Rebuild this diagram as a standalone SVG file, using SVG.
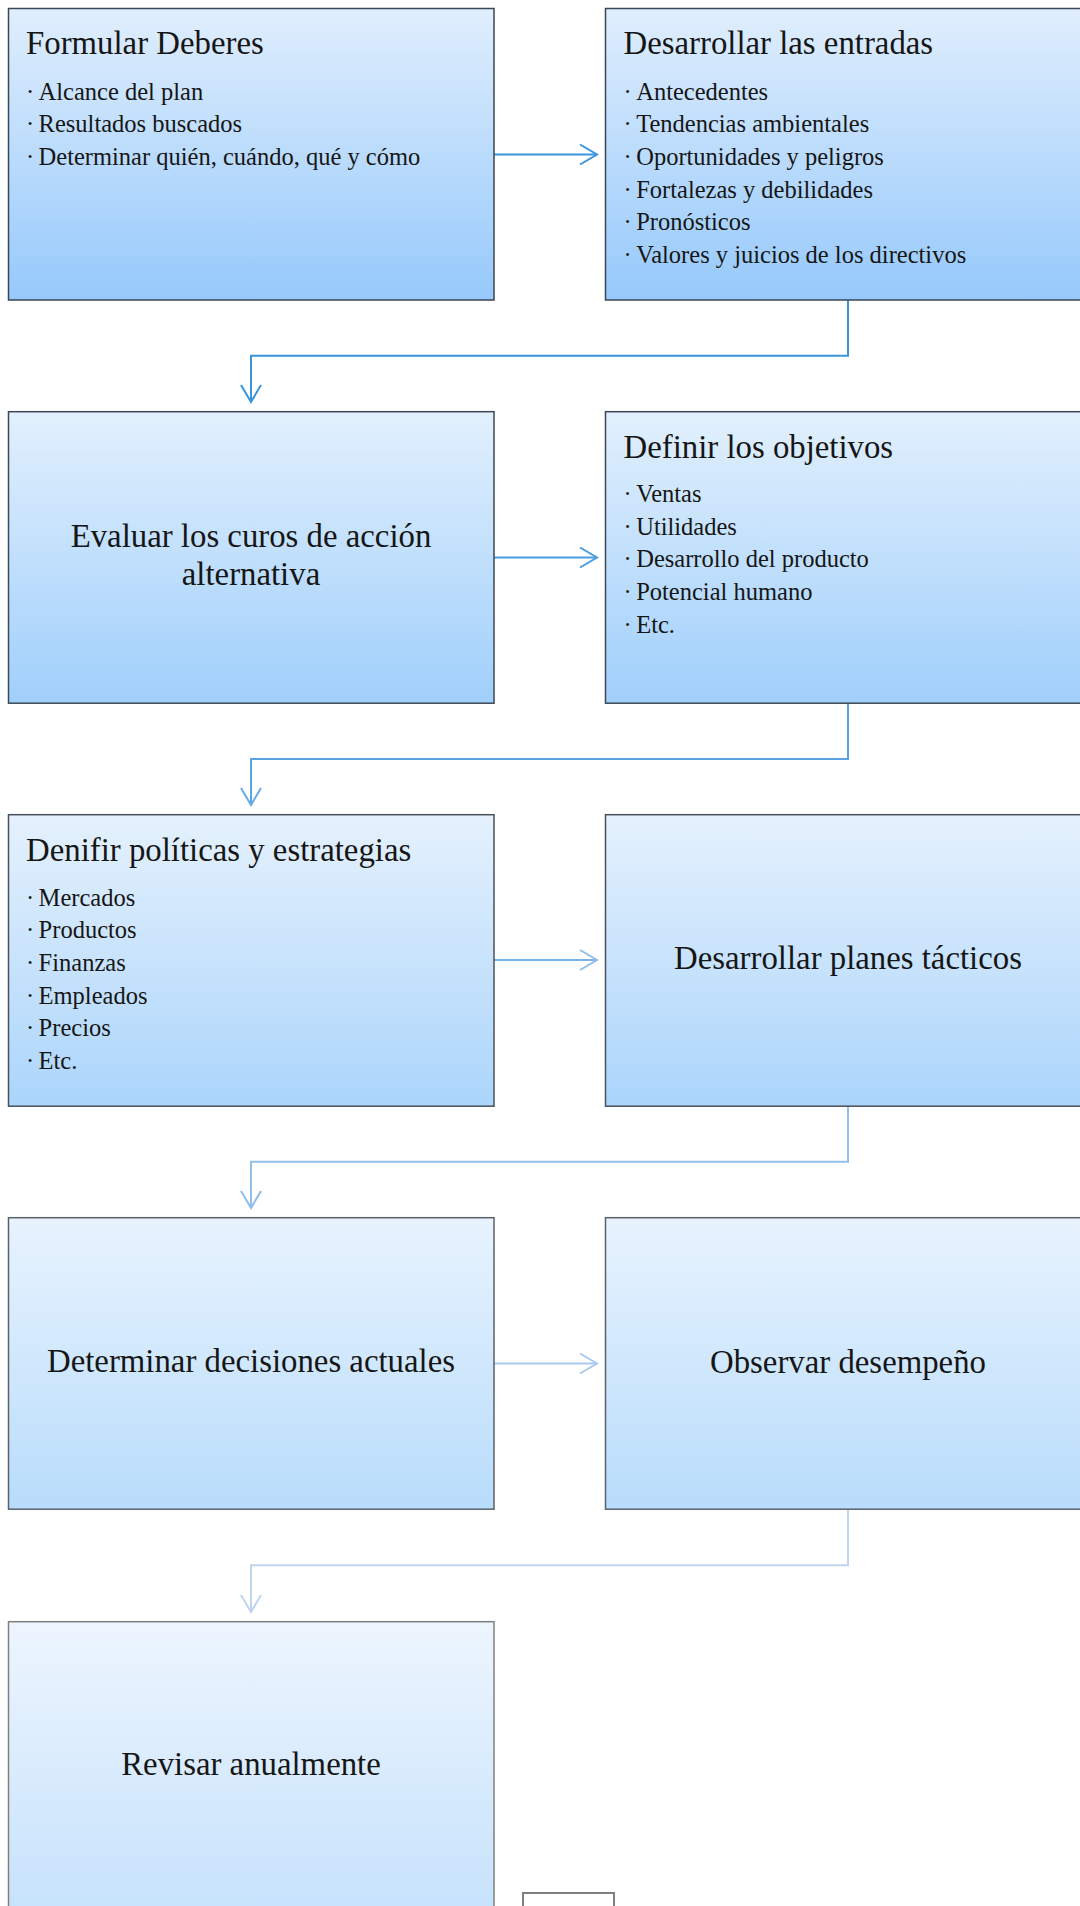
<svg xmlns="http://www.w3.org/2000/svg" width="1080" height="1906" viewBox="0 0 1080 1906">
<style>
text{font-family:"Liberation Serif","Times New Roman",serif;fill:#161616}
.t{font-size:32.8px}
.b{font-size:24.5px}
.c{text-anchor:middle}
.box{stroke-width:1.5}
.ln{fill:none;stroke-width:2}
</style>
<defs>
<linearGradient id="g1" x1="0" y1="0" x2="0" y2="1"><stop offset="0" stop-color="#e0eefd"/><stop offset="1" stop-color="#96c9fb"/></linearGradient>
<linearGradient id="g2" x1="0" y1="0" x2="0" y2="1"><stop offset="0" stop-color="#e2f0fd"/><stop offset="1" stop-color="#a0cffb"/></linearGradient>
<linearGradient id="g3" x1="0" y1="0" x2="0" y2="1"><stop offset="0" stop-color="#e5f1fd"/><stop offset="1" stop-color="#abd5fb"/></linearGradient>
<linearGradient id="g4" x1="0" y1="0" x2="0" y2="1"><stop offset="0" stop-color="#e8f3fe"/><stop offset="1" stop-color="#b8dcfb"/></linearGradient>
<linearGradient id="g5" x1="0" y1="0" x2="0" y2="1"><stop offset="0" stop-color="#edf5fe"/><stop offset="1" stop-color="#c6e2fc"/></linearGradient>
<marker id="m1" markerUnits="userSpaceOnUse" markerWidth="24" markerHeight="26" refX="19" refY="12" orient="auto"><path d="M2,2 L19,12 L2,22" fill="none" stroke="#3a95dc" stroke-width="2"/></marker>
<marker id="m2" markerUnits="userSpaceOnUse" markerWidth="24" markerHeight="26" refX="19" refY="12" orient="auto"><path d="M2,2 L19,12 L2,22" fill="none" stroke="#4a9cdf" stroke-width="2"/></marker>
<marker id="m3" markerUnits="userSpaceOnUse" markerWidth="24" markerHeight="26" refX="19" refY="12" orient="auto"><path d="M2,2 L19,12 L2,22" fill="none" stroke="#6aaae5" stroke-width="2"/></marker>
<marker id="m4" markerUnits="userSpaceOnUse" markerWidth="24" markerHeight="26" refX="19" refY="12" orient="auto"><path d="M2,2 L19,12 L2,22" fill="none" stroke="#8fbdea" stroke-width="2"/></marker>
<marker id="m5" markerUnits="userSpaceOnUse" markerWidth="24" markerHeight="26" refX="19" refY="12" orient="auto"><path d="M2,2 L19,12 L2,22" fill="none" stroke="#aac9ee" stroke-width="2"/></marker>
<marker id="m6" markerUnits="userSpaceOnUse" markerWidth="24" markerHeight="26" refX="19" refY="12" orient="auto"><path d="M2,2 L19,12 L2,22" fill="none" stroke="#c0d5ef" stroke-width="2"/></marker>
</defs>
<rect width="1080" height="1906" fill="#ffffff"/>
<g id="connectors">
<path class="ln" stroke="#3a95dc" d="M494,154.5 H597" marker-end="url(#m1)"/>
<path class="ln" stroke="#3a95dc" d="M848,300 V355.8 H251 V402" marker-end="url(#m1)"/>
<path class="ln" stroke="#4a9cdf" d="M494,557.5 H597" marker-end="url(#m2)"/>
<path class="ln" stroke="#5aa3e2" d="M848,703 V759 H251 V805" marker-end="url(#m3)"/>
<path class="ln" stroke="#78b3e8" d="M494,960 H597" marker-end="url(#m4)"/>
<path class="ln" stroke="#93bfeb" d="M848,1106 V1161.8 H251 V1208" marker-end="url(#m4)"/>
<path class="ln" stroke="#aac9ee" d="M494,1363.5 H597" marker-end="url(#m5)"/>
<path class="ln" stroke="#c0d5ef" d="M848,1509 V1565.3 H251 V1612" marker-end="url(#m6)"/>
</g>
<g id="n1">
<rect class="box" x="8.5" y="8.5" width="485.5" height="291.5" fill="url(#g1)" stroke="#3b4653"/>
<text class="t" x="26" y="54">Formular Deberes</text>
<text class="b" x="26" y="99.5">·<tspan x="38.6">Alcance del plan</tspan></text>
<text class="b" x="26" y="132.2">·<tspan x="38.6">Resultados buscados</tspan></text>
<text class="b" x="26" y="164.9">·<tspan x="38.6">Determinar quién, cuándo, qué y cómo</tspan></text>
</g>
<g id="n2">
<rect class="box" x="605.5" y="8.5" width="485.5" height="291.5" fill="url(#g1)" stroke="#3b4653"/>
<text class="t" x="623.5" y="54">Desarrollar las entradas</text>
<text class="b" x="623.5" y="99.5">·<tspan x="636.2">Antecedentes</tspan></text>
<text class="b" x="623.5" y="132.2">·<tspan x="636.2">Tendencias ambientales</tspan></text>
<text class="b" x="623.5" y="164.9">·<tspan x="636.2">Oportunidades y peligros</tspan></text>
<text class="b" x="623.5" y="197.6">·<tspan x="636.2">Fortalezas y debilidades</tspan></text>
<text class="b" x="623.5" y="230.3">·<tspan x="636.2">Pronósticos</tspan></text>
<text class="b" x="623.5" y="263">·<tspan x="636.2">Valores y juicios de los directivos</tspan></text>
</g>
<g id="n3">
<rect class="box" x="8.5" y="411.7" width="485.5" height="291.5" fill="url(#g2)" stroke="#3d4854"/>
<text class="t c" x="251" y="547">Evaluar los curos de acción</text>
<text class="t c" x="251" y="585">alternativa</text>
</g>
<g id="n4">
<rect class="box" x="605.5" y="411.7" width="485.5" height="291.5" fill="url(#g2)" stroke="#3d4854"/>
<text class="t" x="623.5" y="457.5">Definir los objetivos</text>
<text class="b" x="623.5" y="502">·<tspan x="636.2">Ventas</tspan></text>
<text class="b" x="623.5" y="534.7">·<tspan x="636.2">Utilidades</tspan></text>
<text class="b" x="623.5" y="567.4">·<tspan x="636.2">Desarrollo del producto</tspan></text>
<text class="b" x="623.5" y="600.1">·<tspan x="636.2">Potencial humano</tspan></text>
<text class="b" x="623.5" y="632.8">·<tspan x="636.2">Etc.</tspan></text>
</g>
<g id="n5">
<rect class="box" x="8.5" y="814.7" width="485.5" height="291.5" fill="url(#g3)" stroke="#48515b"/>
<text class="t" x="26" y="860.5">Denifir políticas y estrategias</text>
<text class="b" x="26" y="905.5">·<tspan x="38.6">Mercados</tspan></text>
<text class="b" x="26" y="938.2">·<tspan x="38.6">Productos</tspan></text>
<text class="b" x="26" y="970.9">·<tspan x="38.6">Finanzas</tspan></text>
<text class="b" x="26" y="1003.6">·<tspan x="38.6">Empleados</tspan></text>
<text class="b" x="26" y="1036.3">·<tspan x="38.6">Precios</tspan></text>
<text class="b" x="26" y="1069">·<tspan x="38.6">Etc.</tspan></text>
</g>
<g id="n6">
<rect class="box" x="605.5" y="814.7" width="485.5" height="291.5" fill="url(#g3)" stroke="#48515b"/>
<text class="t c" x="848" y="969">Desarrollar planes tácticos</text>
</g>
<g id="n7">
<rect class="box" x="8.5" y="1217.7" width="485.5" height="291.5" fill="url(#g4)" stroke="#5a6169"/>
<text class="t c" x="251" y="1372">Determinar decisiones actuales</text>
</g>
<g id="n8">
<rect class="box" x="605.5" y="1217.7" width="485.5" height="291.5" fill="url(#g4)" stroke="#5a6169"/>
<text class="t c" x="848" y="1372.5">Observar desempeño</text>
</g>
<g id="n9">
<rect class="box" x="8.5" y="1621.7" width="485.5" height="291.5" fill="url(#g5)" stroke="#7f7f7f"/>
<text class="t c" x="251" y="1775">Revisar anualmente</text>
</g>
<g id="n10">
<rect x="523" y="1893" width="91" height="20" fill="#ffffff" stroke="#808080" stroke-width="2"/>
</g>
</svg>
